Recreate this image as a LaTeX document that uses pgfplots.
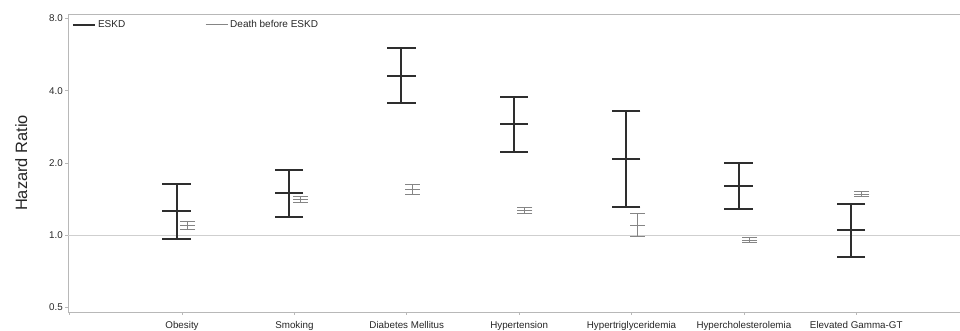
\documentclass[border=0pt]{standalone}
\usepackage{pgfplots}
\pgfplotsset{compat=1.18}
\usepackage{pgfplotstable}
\usepackage{fontspec}
\setmainfont{Liberation Sans}
\definecolor{eskd}{HTML}{2E2E2E}
\definecolor{death}{HTML}{858585}
\definecolor{axisgray}{HTML}{B8B8B8}
\definecolor{refline}{HTML}{CFCFCF}
\definecolor{txt}{HTML}{262626}

\pgfplotstableread{
x lo mid hi
0.952 0.968 1.26 1.63
1.952 1.195 1.50 1.87
2.952 3.55 4.62 6.02
3.952 2.22 2.90 3.77
4.952 1.316 2.08 3.28
5.952 1.29 1.61 2.00
6.952 0.81 1.049 1.35
}\eskdtab

\pgfplotstableread{
x lo mid hi
1.05 1.059 1.10 1.144
2.05 1.367 1.41 1.448
3.05 1.476 1.55 1.63
4.05 1.227 1.266 1.30
5.05 0.987 1.097 1.227
6.05 0.929 0.956 0.981
7.05 1.444 1.48 1.52
}\deathtab

% draws the whiskers (vertical lines) of a CI table
\newcommand{\whiskers}[2]{%
  \pgfplotsinvokeforeach{0,...,6}{%
    \pgfplotstablegetelem{##1}{x}\of#1\let\wx\pgfplotsretval
    \pgfplotstablegetelem{##1}{lo}\of#1\let\wlo\pgfplotsretval
    \pgfplotstablegetelem{##1}{hi}\of#1\let\whi\pgfplotsretval
    \edef\temp{\noexpand\addplot[#2, forget plot] coordinates {(\wx,\wlo) (\wx,\whi)};}%
    \temp
  }%
}

\begin{document}
\begin{tikzpicture}
\begin{axis}[
  at={(68.3pt,19pt)}, anchor=south west,
  scale only axis, width=891.7pt, height=298pt,
  xmin=-0.012, xmax=7.923,
  ymode=log, log basis y=2,
  ymin=0.4794, ymax=8.346,
  axis y line*=left, axis x line*=box,
  xtick pos=left, ytick pos=left,
  axis line style={axisgray, line width=0.8pt},
  tick style={axisgray, line width=0.8pt},
  tick align=outside, major tick length=3pt,
  xtick={0,1,2,3,4,5,6,7},
  xticklabels={,Obesity,Smoking,Diabetes Mellitus,Hypertension,Hypertriglyceridemia,Hypercholesterolemia,Elevated Gamma-GT},
  ytick={0.5,1,2,4,8},
  yticklabels={0.5,1.0,2.0,4.0,8.0},
  /pgf/number format/assume math mode=true,
  ticklabel style={font=\fontsize{9.8}{11}\selectfont, text=txt},
  xticklabel style={yshift=-2.5pt},
  yticklabel style={xshift=1pt},
  ylabel={Hazard Ratio},
  ylabel style={font=\fontsize{16.4}{18}\selectfont, text=txt,
    at={(axis description cs:-0.0527,0.5)}, anchor=center},
  legend columns=2,
  legend image code/.code={\draw[#1] (0pt,0pt) -- (22pt,0pt);},
  legend style={draw=none, fill=none, at={(axis description cs:0,1)}, anchor=north west,
    xshift=0.5pt, yshift=-2pt, font=\fontsize{10}{12}\selectfont, text=txt,
    nodes={inner sep=2pt},
    /tikz/every even column/.append style={column sep=78pt}},
  clip=false,
]
\addlegendimage{eskd, line width=2pt}
\addlegendentry{ESKD}
\addlegendimage{death, line width=1pt}
\addlegendentry{Death before ESKD}

\addplot[refline, line width=1pt, forget plot] coordinates {(-0.012,1) (7.923,1)};

% ESKD
\whiskers{\eskdtab}{eskd, line width=2pt}
\addplot[only marks, mark=-, mark size=14.2pt, mark options={line width=2pt, eskd}, forget plot]
  table[x=x, y=lo] {\eskdtab};
\addplot[only marks, mark=-, mark size=14.2pt, mark options={line width=2pt, eskd}, forget plot]
  table[x=x, y=mid] {\eskdtab};
\addplot[only marks, mark=-, mark size=14.2pt, mark options={line width=2pt, eskd}, forget plot]
  table[x=x, y=hi] {\eskdtab};

% Death before ESKD
\whiskers{\deathtab}{death, line width=1pt}
\addplot[only marks, mark=-, mark size=7.5pt, mark options={line width=1pt, death}, forget plot]
  table[x=x, y=lo] {\deathtab};
\addplot[only marks, mark=-, mark size=7.5pt, mark options={line width=1pt, death}, forget plot]
  table[x=x, y=mid] {\deathtab};
\addplot[only marks, mark=-, mark size=7.5pt, mark options={line width=1pt, death}, forget plot]
  table[x=x, y=hi] {\deathtab};
\end{axis}
\pgfresetboundingbox
\path (0,0) rectangle (960pt,331pt);
\end{tikzpicture}
\end{document}
